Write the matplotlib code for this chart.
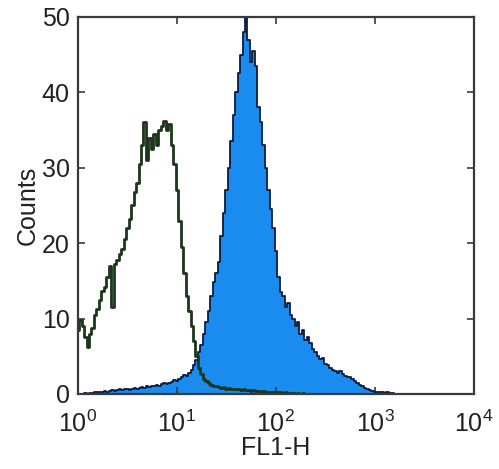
import numpy as np
import matplotlib
matplotlib.use("Agg")
import matplotlib.pyplot as plt
from matplotlib.ticker import LogLocator, NullLocator

plt.rcParams['font.family'] = ['Liberation Sans', 'DejaVu Sans']
plt.rcParams['mathtext.fontset'] = 'custom'
plt.rcParams['mathtext.rm'] = 'Liberation Sans'
plt.rcParams['mathtext.it'] = 'Liberation Sans:italic'
plt.rcParams['mathtext.bf'] = 'Liberation Sans:bold'
plt.rcParams['mathtext.default'] = 'regular'

# channel width in decades (FL1-H log scale)
step = 0.025

# isotype / unstained control (open histogram), channels from 10^0
control_counts = [
    8.5, 9.8, 9.0, 7.5, 6.2, 8.0, 8.8, 10.5,
    11.2, 12.5, 13.6, 14.2, 15.5, 17.0, 11.5, 17.2,
    17.8, 18.6, 19.2, 20.5, 22.0, 23.2, 25.0, 26.8,
    28.0, 30.5, 33.0, 36.0, 31.0, 34.0, 32.5, 34.5,
    33.0, 35.0, 35.5, 36.2, 35.0, 35.8, 33.0, 30.5,
    27.0, 23.0, 19.5, 16.0, 13.0, 11.0, 9.0, 7.0,
    5.0, 3.5, 2.6, 2.0, 1.7, 1.5, 1.2, 1.1,
    1.0, 0.9, 0.8, 0.9, 0.7, 0.8, 0.7, 0.6,
    0.7, 0.6, 0.5, 0.6, 0.5, 0.5, 0.4, 0.5,
    0.4, 0.4, 0.3, 0.4, 0.3, 0.3, 0.2, 0.3,
    0.2, 0.2, 0.2, 0.1, 0.2, 0.1, 0.1, 0.1,
    0.0, 0.1, 0.0, 0.1, 0.0, 0.0,
]

# stained sample (filled histogram)
stained_counts = [
    0.0, 0.0, 0.0, 0.1, 0.0, 0.1, 0.1, 0.2,
    0.3, 0.2, 0.3, 0.4, 0.3, 0.4, 0.5, 0.4,
    0.5, 0.6, 0.5, 0.7, 0.6, 0.5, 0.7, 0.8,
    0.7, 0.8, 0.9, 0.8, 1.0, 0.9, 1.1, 1.0,
    1.2, 1.1, 1.3, 1.4, 1.3, 1.5, 1.6, 1.8,
    1.7, 2.0, 2.2, 2.5, 2.4, 2.8, 3.2, 3.8,
    4.5, 5.5, 6.5, 8.0, 9.5, 11.0, 13.0, 14.8,
    16.0, 17.5, 21.0, 24.0, 27.0, 30.0, 33.5, 37.0,
    40.0, 42.5, 45.0, 48.0, 50.5, 47.0, 44.0, 45.5,
    43.5, 38.0, 36.0, 33.0, 30.0, 27.0, 24.5, 22.0,
    19.0, 15.5, 13.5, 13.0, 11.5, 12.0, 10.5, 10.0,
    9.0, 9.5, 8.0, 8.5, 7.2, 7.5, 6.8, 6.0,
    5.5, 5.0, 4.6, 4.8, 4.0, 3.8, 3.5, 3.2,
    3.0, 2.8, 3.1, 2.6, 2.4, 2.2, 2.3, 2.0,
    1.7, 1.5, 1.2, 1.0, 0.8, 0.6, 0.5, 0.4,
    0.3, 0.3, 0.2, 0.2, 0.1, 0.2, 0.1, 0.1,
    0.0,
]

x_ctrl = 10 ** (np.arange(len(control_counts)) * step)
x_stain = 10 ** (np.arange(len(stained_counts)) * step)

fig = plt.figure(figsize=(4.99, 4.69), dpi=100)
ax = fig.add_axes([0.156, 0.16, 0.794, 0.804])

ax.fill_between(x_stain, stained_counts, step='mid', color='#1a8cf0', linewidth=0)
ax.step(x_stain, stained_counts, where='mid', color='#0c1c3c', lw=1.3)
ax.step(x_ctrl, control_counts, where='mid', color='#1c361c', lw=2.0)

ax.set_xscale('log')
ax.set_xlim(1, 1e4)
ax.set_ylim(0, 50)
ax.xaxis.set_major_locator(LogLocator(base=10, numticks=10))
ax.xaxis.set_minor_locator(NullLocator())
ax.set_yticks([0, 10, 20, 30, 40, 50])

for s in ax.spines.values():
    s.set_color('#3a3a3a')
    s.set_linewidth(1.6)
ax.tick_params(direction='in', length=5, width=1.2, color='#3a3a3a',
               top=True, right=True, labelsize=18, labelcolor='#222222')
ax.tick_params(axis='x', pad=12)
ax.tick_params(axis='y', pad=6)

ax.set_xlabel('FL1-H', fontsize=18, color='#222222', labelpad=-1)
ax.set_ylabel('Counts', fontsize=18, color='#222222', labelpad=1)

fig.savefig('out.png', dpi=100)
